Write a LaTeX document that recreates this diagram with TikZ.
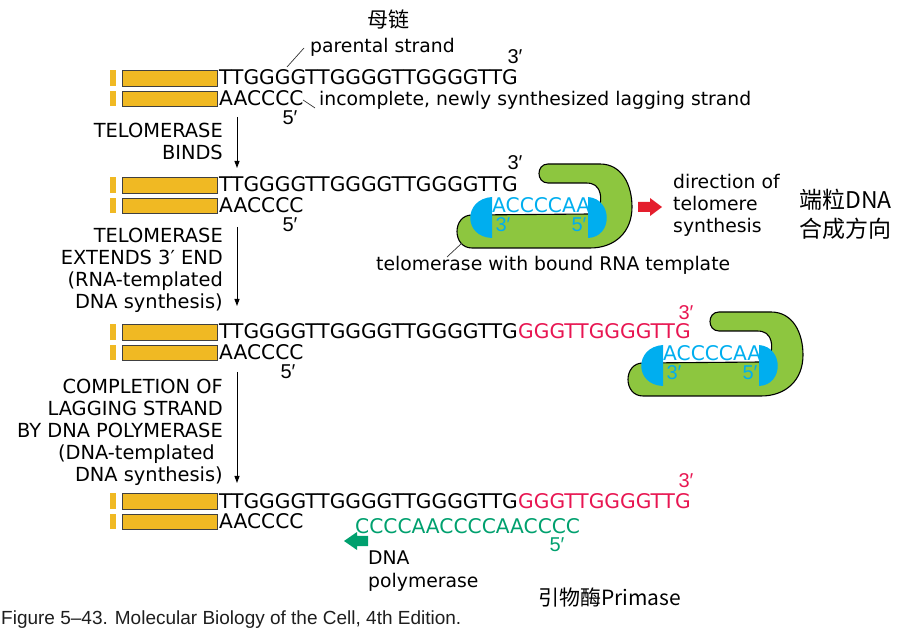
\documentclass[tikz,border=0pt]{standalone}
\usepackage{fontspec}
\setmainfont{DejaVu Sans}
\newfontfamily\dvfont{DejaVu Sans}
\newfontfamily\libfont{Liberation Sans}
\newfontfamily\cjkfont{Noto Sans CJK SC}
\usetikzlibrary{arrows.meta}
\definecolor{barcol}{RGB}{240,185,35}
\definecolor{telocol}{RGB}{141,198,63}
\definecolor{rnacol}{RGB}{0,174,239}
\definecolor{newdna}{RGB}{232,22,82}
\definecolor{redarrow}{RGB}{228,30,45}
\definecolor{polycol}{RGB}{0,160,110}
\definecolor{captcol}{RGB}{30,30,30}
\begin{document}
\begin{tikzpicture}[x=1pt,y=-1pt,
  seq/.style={font=\dvfont\fontsize{20.2}{22}\selectfont, inner sep=0pt, anchor=base west},
  lbl/.style={font=\dvfont\fontsize{18.8}{22}\selectfont, inner sep=0pt},
  caplbl/.style={font=\dvfont\fontsize{19.4}{22}\selectfont, inner sep=0pt, anchor=base east},
  primelbl/.style={font=\libfont\fontsize{20}{22}\selectfont, inner sep=0pt},
  barbox/.style={fill=barcol, draw=black!75, line width=0.8pt},
  stagearrow/.style={-{Triangle[length=7pt,width=5pt]}, line width=1pt},
  leader/.style={line width=0.7pt, black!80},
  telobody/.style={fill=telocol, draw=black, line width=1.1pt},
  cjkbig/.style={font=\cjkfont\fontsize{23}{29}\selectfont, inner sep=0pt},
  cjkmid/.style={font=\cjkfont\fontsize{21}{26}\selectfont, inner sep=0pt},
  capt/.style={font=\libfont\fontsize{19}{22}\selectfont, inner sep=0pt, text=captcol},
  telomerase/.pic={
    \path[telobody] (548,164) -- (600,164) .. controls (622,164) and (632,185) .. (632,207)
      .. controls (632,232) and (615,248) .. (590,248) -- (472,248)
      .. controls (452,248) and (452,215) .. (472,215) -- (590,214)
      .. controls (600,214) and (602,200) .. (600,193)
      .. controls (598,186) and (594,183) .. (586,183) -- (548,183)
      .. controls (536,183) and (536,164) .. (548,164) -- cycle;
    \fill[rnacol] (492,197) -- (492,238) .. controls (463,237) and (463,199) .. (492,197) -- cycle;
    \fill[rnacol] (588,197) -- (588,238) .. controls (613,237) and (613,199) .. (588,197) -- cycle;
    \node[seq, text=rnacol] (-tmpl) at (492,212.5) {ACCCCAA};
    \node[primelbl, text=rnacol] (-p3) at (503,225) {3′};
    \node[primelbl, text=rnacol] (-p5) at (579,225) {5′};
  }
]
\useasboundingbox (0,0) rectangle (898,636);

% yellow duplex bars
\foreach \T in {70,177,324,493} {
  \fill[barcol] (110,\T) rectangle (116,\T+16);
  \draw[barbox] (122,\T) rectangle (217,\T+16);
  \fill[barcol] (110,\T+21) rectangle (116,\T+36);
  \draw[barbox] (122,\T+21) rectangle (217,\T+36);
}

% row 1
\node[cjkmid] (mulian) at (388,20) {母链};
\node[lbl, anchor=base west] (parental) at (310,53) {parental strand};
\node[seq] (t1) at (219,85) {TTGGGGTTGGGGTTGGGGTTG};
\node[seq] (b1) at (219,106) {AACCCC};
\node[primelbl] (t1p) at (515,57) {3′};
\node[primelbl] (b1p) at (290,118) {5′};
\node[lbl, anchor=base west] (incomplete) at (319,106) {incomplete, newly synthesized lagging strand};
\coordinate (pl1) at (287,67);
\coordinate (pl2) at (304,48);
\draw[leader] (pl1) -- (pl2);
\coordinate (il1) at (303,100);
\coordinate (il2) at (315,108);
\draw[leader] (il1) -- (il2);

% step 1
\node[caplbl] (s1a) at (223,138) {TELOMERASE};
\node[caplbl] (s1b) at (223,160) {BINDS};
\coordinate (a1s) at (237,117);
\coordinate (a1e) at (237,168);
\draw[stagearrow] (a1s) -- (a1e);

% row 2
\pic (teloA) at (0,0) {telomerase};
\node[seq] (t2) at (219,192) {TTGGGGTTGGGGTTGGGGTTG};
\node[seq] (b2) at (219,213) {AACCCC};
\node[primelbl] (t2p) at (515,163) {3′};
\node[primelbl] (b2p) at (290,225) {5′};
\fill[redarrow] (638,202) -- (650,202) -- (650,198) -- (662,207) -- (650,216) -- (650,212) -- (638,212) -- cycle;
\node[lbl, anchor=base west] (dir1) at (673,189) {direction of};
\node[lbl, anchor=base west] (dir2) at (673,211) {telomere};
\node[lbl, anchor=base west] (dir3) at (673,233) {synthesis};
\node[cjkbig, anchor=west] (dirzh1) at (799,200) {端粒DNA};
\node[cjkbig, anchor=west] (dirzh2) at (799,229) {合成方向};
\node[lbl, anchor=base west] (telolbl) at (376,271) {telomerase with bound RNA template};
\coordinate (tl1) at (447,257);
\coordinate (tl2) at (462,243);
\draw[leader] (tl1) -- (tl2);

% step 2
\node[caplbl] (s2a) at (223,243) {TELOMERASE};
\node[caplbl] (s2b) at (223,265) {EXTENDS 3′ END};
\node[caplbl] (s2c) at (223,287) {(RNA-templated};
\node[caplbl] (s2d) at (223,309) {DNA synthesis)};
\coordinate (a2s) at (237,227);
\coordinate (a2e) at (237,306);
\draw[stagearrow] (a2s) -- (a2e);

% row 3
\pic (teloB) at (171,148) {telomerase};
\node[seq] (t3) at (219,339) {TTGGGGTTGGGGTTGGGGTTG};
\node[seq, text=newdna] (r3) at (t3.base east) {GGGTTGGGGTTG};
\node[seq] (b3) at (219,360) {AACCCC};
\node[primelbl, text=newdna] (t3p) at (686,313) {3′};
\node[primelbl] (b3p) at (288,372) {5′};

% step 3
\node[caplbl] (s3a) at (223,394) {COMPLETION OF};
\node[caplbl] (s3b) at (223,416) {LAGGING STRAND};
\node[caplbl] (s3c) at (223,438) {BY DNA POLYMERASE};
\node[caplbl] (s3d) at (215,460) {(DNA-templated};
\node[caplbl] (s3e) at (223,482) {DNA synthesis)};
\coordinate (a3s) at (237,372);
\coordinate (a3e) at (237,483);
\draw[stagearrow] (a3s) -- (a3e);

% row 4
\node[seq] (t4) at (219,508) {TTGGGGTTGGGGTTGGGGTTG};
\node[seq, text=newdna] (r4) at (t4.base east) {GGGTTGGGGTTG};
\node[seq] (b4) at (219,529) {AACCCC};
\node[primelbl, text=newdna] (t4p) at (686,481) {3′};
\node[seq, text=polycol] (g4) at (355,533) {CCCCAACCCCAACCCC};
\node[primelbl, text=polycol] (g4p) at (557,545) {5′};
\fill[polycol] (368,536) -- (357,536) -- (357,532) -- (344,541) -- (357,550) -- (357,546) -- (368,546) -- cycle;
\node[lbl, anchor=base west] (pol1) at (368,565) {DNA};
\node[lbl, anchor=base west] (pol2) at (368,587) {polymerase};
\node[cjkmid, anchor=west] (primase) at (538,598) {引物酶Primase};

% caption
\node[capt, anchor=base west] (caption) at (1,624) {Figure 5–43. Molecular Biology of the Cell, 4th Edition.};
\end{tikzpicture}
\end{document}
